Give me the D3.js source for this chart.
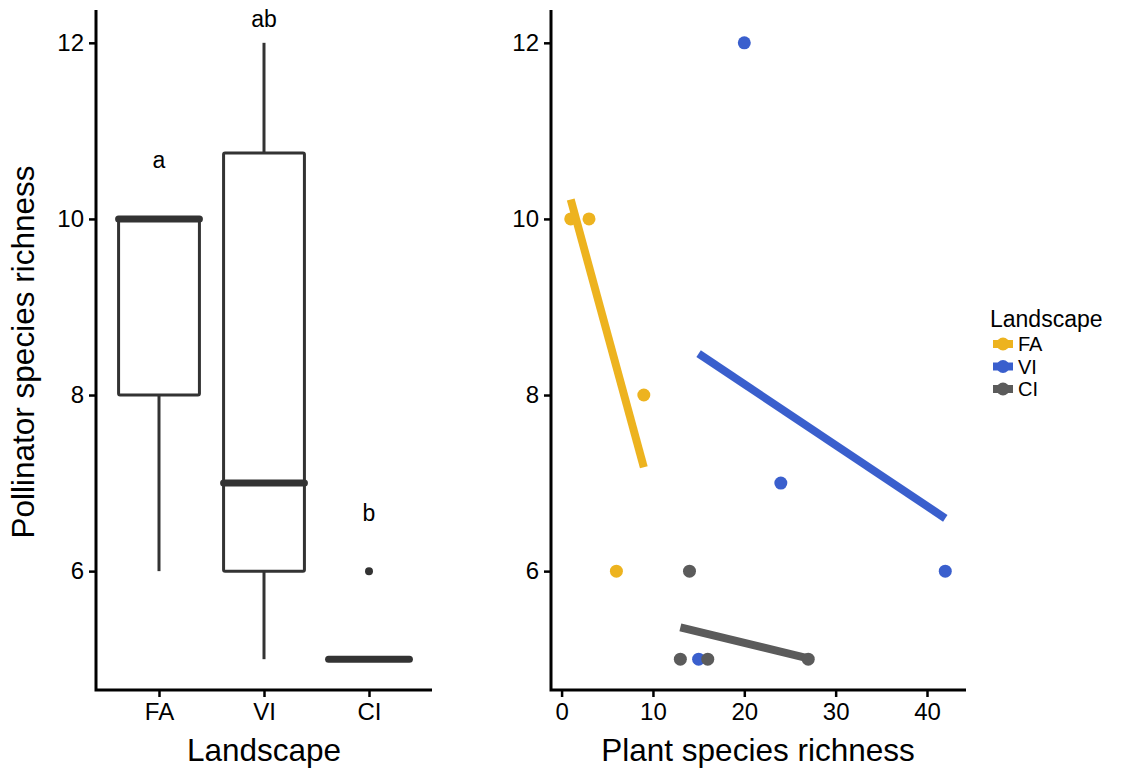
<!DOCTYPE html>
<html>
<head>
<meta charset="utf-8">
<script src="https://cdn.jsdelivr.net/npm/d3@7"></script>
<style>
  body { margin: 0; background: #fff; }
  text { font-family: "Liberation Sans", Arial, Helvetica, sans-serif; fill: #000; }
</style>
</head>
<body>
<svg width="1125" height="771"></svg>
<script>
// categories and colours
const landscapes = ["FA", "VI", "CI"];
const colors = ["#EDB31F", "#3A5FCD", "#5B5B5B"];

// box plot summaries (pollinator richness)
const boxLow = [6, 5, 5];
const boxQ1 = [8, 6, 5];
const boxMed = [10, 7, 5];
const boxQ3 = [10, 10.75, 5];
const boxHigh = [10, 12, 5];
const outliers = [["CI", 6]];
const letters = ["a", "ab", "b"];
const letterY = [10.67, 12.27, 6.66];

// scatter: plant richness vs pollinator richness
const plantRich = [1, 3, 9, 6, 20, 24, 42, 15, 13, 14, 16, 27];
const pollRich = [10, 10, 8, 6, 12, 7, 6, 5, 5, 6, 5, 5];
const group = ["FA", "FA", "FA", "FA", "VI", "VI", "VI", "VI", "CI", "CI", "CI", "CI"];

// fitted lines: [x0, y0, x1, y1]
const fits = [[1, 10.22, 9, 7.18], [15, 8.47, 42, 6.6], [13, 5.36, 27, 5.01]];

const yTicks = [6, 8, 10, 12];
const xTicks = [0, 10, 20, 30, 40];

const svg = d3.select("svg");
const plotTop = 12, plotBottom = 690;

const y = d3.scaleLinear().domain([4.65, 12.35]).range([plotBottom, plotTop]);
const xCat = d3.scalePoint().domain(landscapes).range([96, 432]).padding(0.6);
const xNum = d3.scaleLinear().domain([-1.05, 44.05]).range([552, 964]);
const col = d3.scaleOrdinal().domain(landscapes).range(colors);

function styleAxis(g, size) {
  g.select(".domain").remove();
  g.selectAll(".tick line").attr("stroke", "#000").attr("stroke-width", 2.5);
  g.selectAll(".tick text").style("font-size", size + "px").attr("fill", "#000");
}

function frame(x0, x1) {
  svg.append("path")
    .attr("d", `M${x0},${plotTop - 2}V${plotBottom}H${x1}`)
    .attr("fill", "none").attr("stroke", "#000").attr("stroke-width", 3);
}

// ---- left panel: boxplot ----
const gl = svg.append("g");
gl.append("g").attr("transform", "translate(96,0)")
  .call(d3.axisLeft(y).tickValues(yTicks).tickSize(7).tickPadding(5))
  .call(g => styleAxis(g, 24));
gl.append("g").attr("transform", `translate(0,${plotBottom})`)
  .call(d3.axisBottom(xCat).tickSize(7).tickPadding(6))
  .call(g => styleAxis(g, 24));

const bw = 0.77 * xCat.step();
landscapes.forEach((k, i) => {
  const cx = xCat(k);
  const bg = gl.append("g").attr("stroke", "#333").attr("fill", "none");
  bg.append("line").attr("x1", cx).attr("x2", cx)
    .attr("y1", y(boxHigh[i])).attr("y2", y(boxQ3[i])).attr("stroke-width", 3);
  bg.append("line").attr("x1", cx).attr("x2", cx)
    .attr("y1", y(boxQ1[i])).attr("y2", y(boxLow[i])).attr("stroke-width", 3);
  bg.append("rect").attr("x", cx - bw / 2).attr("width", bw)
    .attr("y", y(boxQ3[i])).attr("height", Math.max(0, y(boxQ1[i]) - y(boxQ3[i])))
    .attr("stroke-width", 3).attr("rx", 1.5);
  bg.append("line").attr("x1", cx - bw / 2).attr("x2", cx + bw / 2)
    .attr("y1", y(boxMed[i])).attr("y2", y(boxMed[i]))
    .attr("stroke-width", 7).attr("stroke-linecap", "round");
  gl.append("text").attr("x", cx).attr("y", y(letterY[i]))
    .attr("text-anchor", "middle").attr("dy", "0.35em")
    .style("font-size", "23px").text(letters[i]);
});
gl.selectAll(".outlier").data(outliers).enter().append("circle")
  .attr("cx", d => xCat(d[0])).attr("cy", d => y(d[1])).attr("r", 4)
  .attr("fill", "#333");
frame(96, 432);

gl.append("text").attr("x", 264).attr("y", 761).attr("text-anchor", "middle")
  .style("font-size", "31.5px").text("Landscape");
gl.append("text").attr("transform", "translate(34,352) rotate(-90)")
  .attr("text-anchor", "middle").style("font-size", "31.5px")
  .text("Pollinator species richness");

// ---- right panel: scatter ----
const gr = svg.append("g");
gr.append("g").attr("transform", "translate(551,0)")
  .call(d3.axisLeft(y).tickValues(yTicks).tickSize(7).tickPadding(5))
  .call(g => styleAxis(g, 24));
gr.append("g").attr("transform", `translate(0,${plotBottom})`)
  .call(d3.axisBottom(xNum).tickValues(xTicks).tickSize(7).tickPadding(6))
  .call(g => styleAxis(g, 24));

gr.selectAll(".fit").data(fits).enter().append("line")
  .attr("x1", d => xNum(d[0])).attr("y1", d => y(d[1]))
  .attr("x2", d => xNum(d[2])).attr("y2", d => y(d[3]))
  .attr("stroke", (d, i) => colors[i]).attr("stroke-width", 8);

gr.selectAll(".pt").data(plantRich).enter().append("circle")
  .attr("cx", d => xNum(d)).attr("cy", (d, i) => y(pollRich[i])).attr("r", 6.5)
  .attr("fill", (d, i) => col(group[i]));
frame(551, 966);

gr.append("text").attr("x", 758).attr("y", 761).attr("text-anchor", "middle")
  .style("font-size", "31.5px").text("Plant species richness");

// ---- legend ----
const lg = svg.append("g").attr("transform", "translate(990,0)");
lg.append("text").attr("x", 0).attr("y", 327).style("font-size", "23px").text("Landscape");
landscapes.forEach((k, i) => {
  const cy = 344 + i * 22.5;
  lg.append("line").attr("x1", 3).attr("x2", 23).attr("y1", cy).attr("y2", cy)
    .attr("stroke", col(k)).attr("stroke-width", 8);
  lg.append("circle").attr("cx", 13).attr("cy", cy).attr("r", 6.5).attr("fill", col(k));
  lg.append("text").attr("x", 28).attr("y", cy).attr("dy", "0.36em")
    .style("font-size", "20px").text(k);
});
</script>
</body>
</html>
